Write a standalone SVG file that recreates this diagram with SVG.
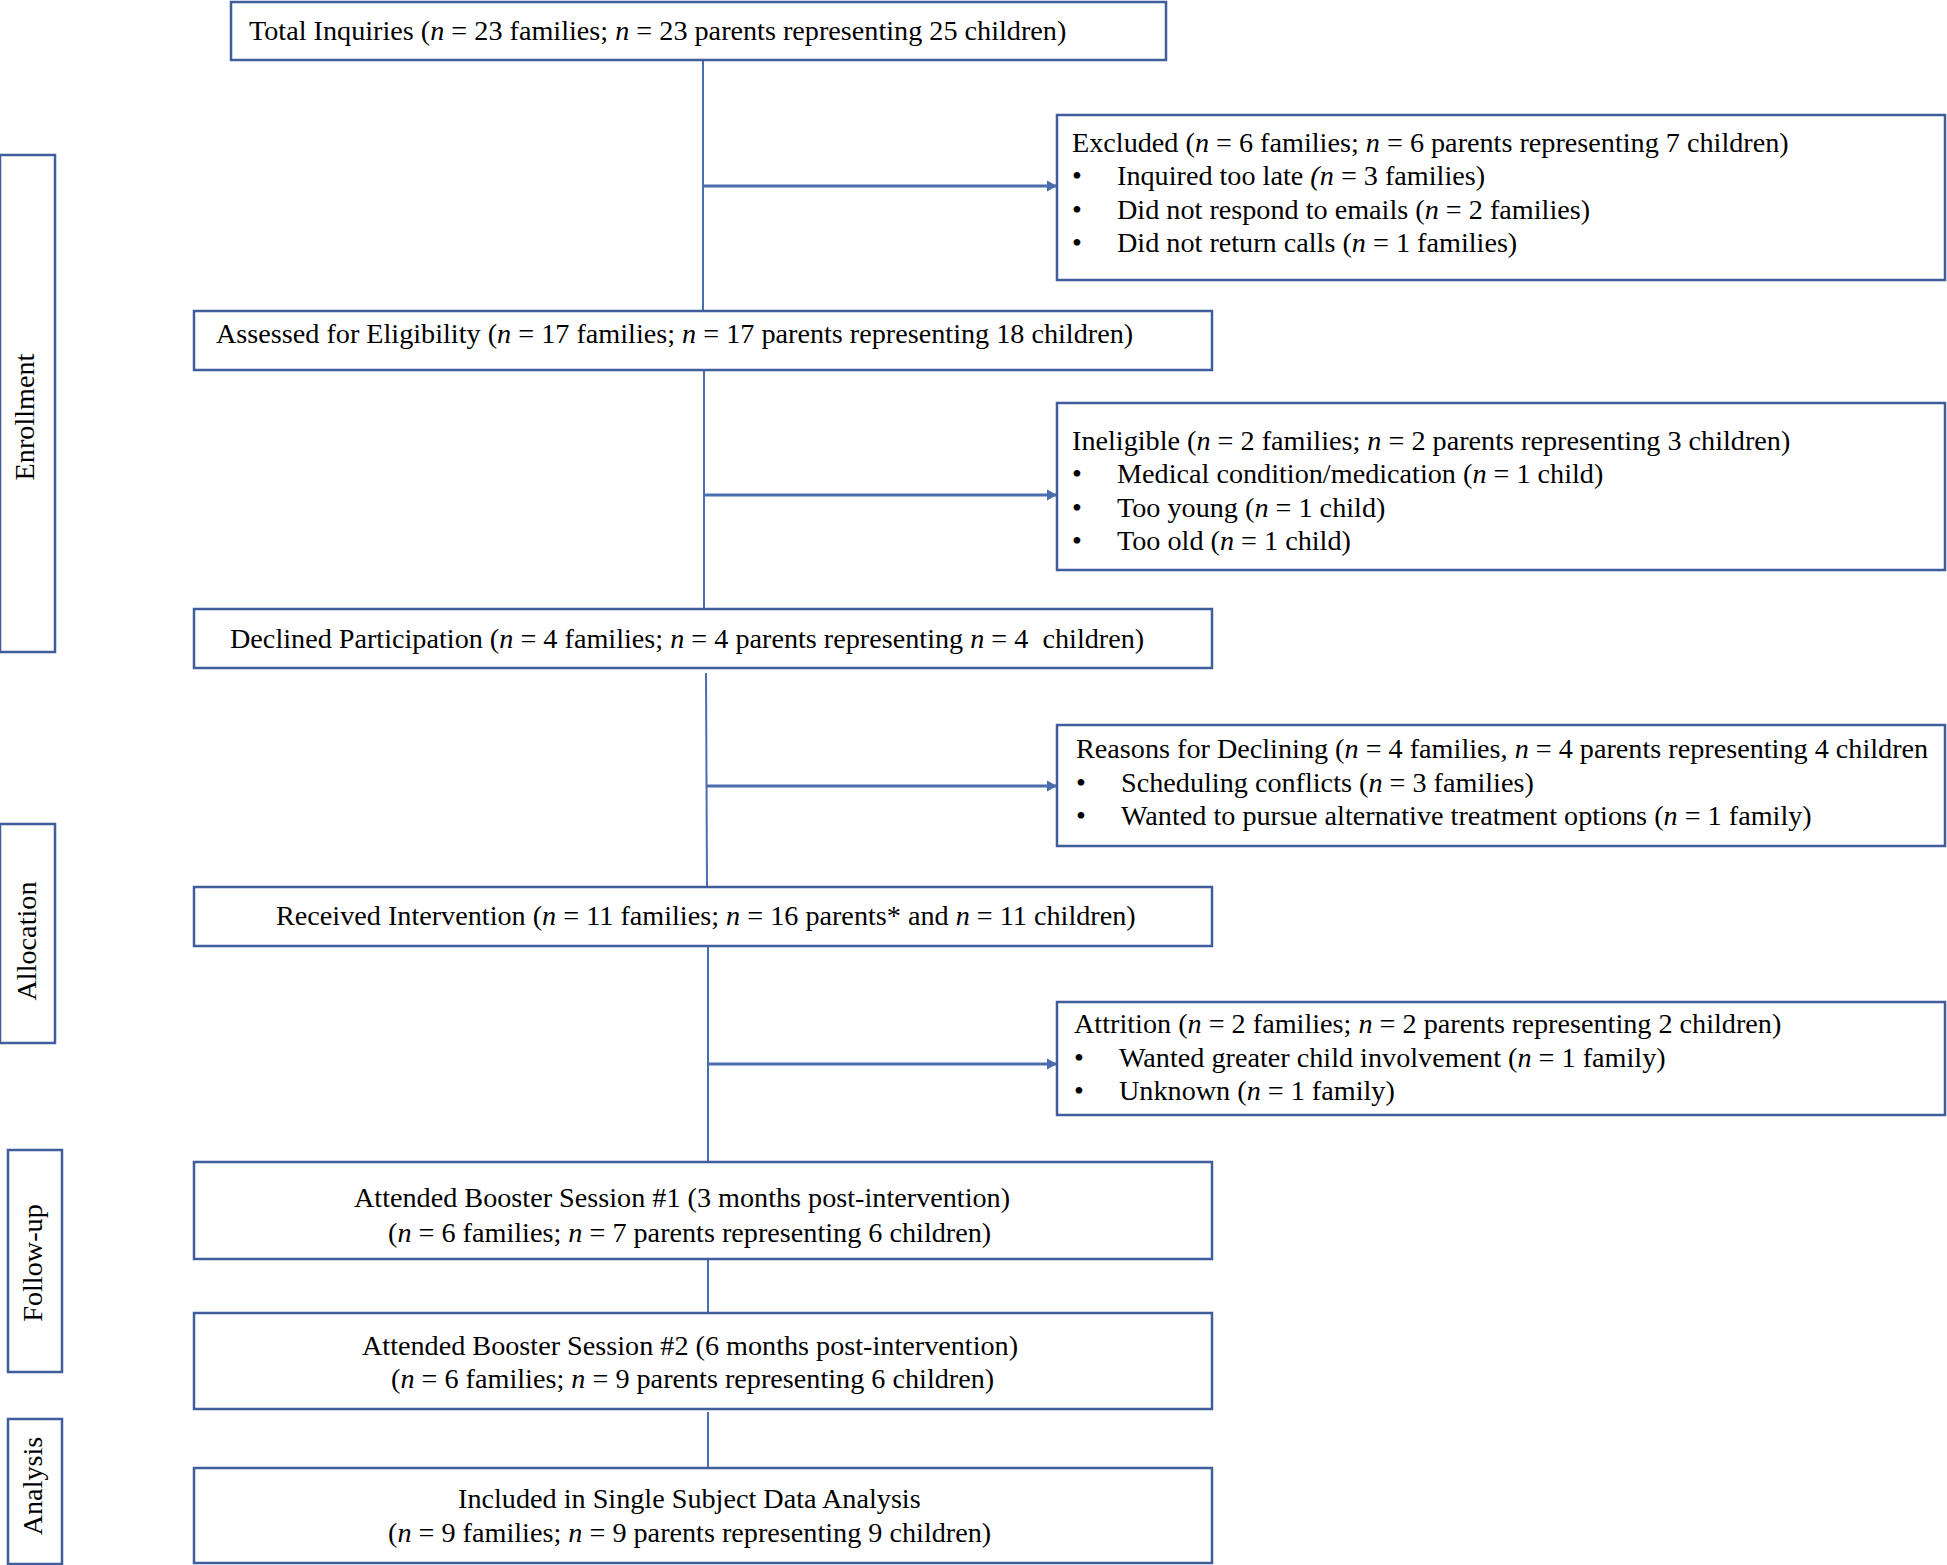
<svg xmlns="http://www.w3.org/2000/svg" width="1947" height="1565" viewBox="0 0 1947 1565">
<style>
.box{fill:#fff;stroke:#3F5E9B;stroke-width:2.5}
.t{font-family:"Liberation Serif","Times New Roman",serif;font-size:28.2px;fill:#000}
.i{font-style:italic}
.v{fill:none;stroke:#4A6DB0;stroke-width:2}
.h{fill:none;stroke:#4A6DB0;stroke-width:3}
</style>
<defs>
<marker id="arr" markerWidth="11" markerHeight="12" refX="10" refY="6" orient="auto" markerUnits="userSpaceOnUse">
<path d="M0,0.5 L10,6 L0,11.5 Z" fill="#4A6DB0"/>
</marker>
</defs>
<rect width="1947" height="1565" fill="#fff"/>
<g id="connectors">
<line class="v" x1="703" y1="60" x2="703" y2="312"/>
<line class="h" x1="703" y1="186" x2="1057" y2="186" marker-end="url(#arr)"/>
<line class="v" x1="704" y1="370" x2="704" y2="609"/>
<line class="h" x1="704" y1="495" x2="1057" y2="495" marker-end="url(#arr)"/>
<polyline class="v" points="706,673 707,887"/>
<line class="h" x1="707" y1="786" x2="1057" y2="786" marker-end="url(#arr)"/>
<line class="v" x1="708" y1="946" x2="708" y2="1162"/>
<line class="h" x1="708" y1="1064" x2="1057" y2="1064" marker-end="url(#arr)"/>
<line class="v" x1="708" y1="1259" x2="708" y2="1313"/>
<line class="v" x1="708" y1="1412" x2="708" y2="1468"/>
</g>
<g id="enrollment">
<rect class="box" x="0" y="155" width="55" height="497"/>
<text class="t" transform="translate(34,417) rotate(-90)" text-anchor="middle">Enrollment</text>
</g>
<g id="allocation">
<rect class="box" x="0" y="824" width="55" height="219"/>
<text class="t" transform="translate(36,941) rotate(-90)" text-anchor="middle">Allocation</text>
</g>
<g id="followup">
<rect class="box" x="8" y="1150" width="54" height="222"/>
<text class="t" transform="translate(42,1263) rotate(-90)" text-anchor="middle">Follow-up</text>
</g>
<g id="analysis">
<rect class="box" x="8" y="1419" width="54" height="145"/>
<text class="t" transform="translate(42,1486) rotate(-90)" text-anchor="middle">Analysis</text>
</g>
<g id="total">
<rect class="box" x="231" y="2" width="935" height="58"/>
<text class="t" x="249" y="40">Total Inquiries (<tspan class="i">n</tspan> = 23 families; <tspan class="i">n</tspan> = 23 parents representing 25 children)</text>
</g>
<g id="excluded">
<rect class="box" x="1057" y="115" width="888" height="165"/>
<text class="t" x="1072" y="152">Excluded (<tspan class="i">n</tspan> = 6 families; <tspan class="i">n</tspan> = 6 parents representing 7 children)</text>
<text class="t" x="1072" y="185">•</text><text class="t" x="1117" y="185">Inquired too late <tspan class="i">(n</tspan> = 3 families)</text>
<text class="t" x="1072" y="219">•</text><text class="t" x="1117" y="219">Did not respond to emails (<tspan class="i">n</tspan> = 2 families)</text>
<text class="t" x="1072" y="252">•</text><text class="t" x="1117" y="252">Did not return calls (<tspan class="i">n</tspan> = 1 families)</text>
</g>
<g id="assessed">
<rect class="box" x="194" y="311" width="1018" height="59"/>
<text class="t" x="216" y="343">Assessed for Eligibility (<tspan class="i">n</tspan> = 17 families; <tspan class="i">n</tspan> = 17 parents representing 18 children)</text>
</g>
<g id="ineligible">
<rect class="box" x="1057" y="403" width="888" height="167"/>
<text class="t" x="1072" y="450">Ineligible (<tspan class="i">n</tspan> = 2 families; <tspan class="i">n</tspan> = 2 parents representing 3 children)</text>
<text class="t" x="1072" y="483">•</text><text class="t" x="1117" y="483">Medical condition/medication (<tspan class="i">n</tspan> = 1 child)</text>
<text class="t" x="1072" y="517">•</text><text class="t" x="1117" y="517">Too young (<tspan class="i">n</tspan> = 1 child)</text>
<text class="t" x="1072" y="550">•</text><text class="t" x="1117" y="550">Too old (<tspan class="i">n</tspan> = 1 child)</text>
</g>
<g id="declined">
<rect class="box" x="194" y="609" width="1018" height="59"/>
<text class="t" x="230" y="648">Declined Participation (<tspan class="i">n</tspan> = 4 families; <tspan class="i">n</tspan> = 4 parents representing <tspan class="i">n</tspan> = 4&#160; children)</text>
</g>
<g id="reasons">
<rect class="box" x="1057" y="725" width="888" height="121"/>
<text class="t" x="1076" y="758">Reasons for Declining (<tspan class="i">n</tspan> = 4 families, <tspan class="i">n</tspan> = 4 parents representing 4 children</text>
<text class="t" x="1076" y="792">•</text><text class="t" x="1121" y="792">Scheduling conflicts (<tspan class="i">n</tspan> = 3 families)</text>
<text class="t" x="1076" y="825">•</text><text class="t" x="1121" y="825">Wanted to pursue alternative treatment options (<tspan class="i">n</tspan> = 1 family)</text>
</g>
<g id="received">
<rect class="box" x="194" y="887" width="1018" height="59"/>
<text class="t" x="276" y="925">Received Intervention (<tspan class="i">n</tspan> = 11 families; <tspan class="i">n</tspan> = 16 parents* and <tspan class="i">n</tspan> = 11 children)</text>
</g>
<g id="attrition">
<rect class="box" x="1057" y="1002" width="888" height="113"/>
<text class="t" x="1074" y="1033">Attrition (<tspan class="i">n</tspan> = 2 families; <tspan class="i">n</tspan> = 2 parents representing 2 children)</text>
<text class="t" x="1074" y="1067">•</text><text class="t" x="1119" y="1067">Wanted greater child involvement (<tspan class="i">n</tspan> = 1 family)</text>
<text class="t" x="1074" y="1100">•</text><text class="t" x="1119" y="1100">Unknown (<tspan class="i">n</tspan> = 1 family)</text>
</g>
<g id="booster1">
<rect class="box" x="194" y="1162" width="1018" height="97"/>
<text class="t" x="354" y="1207">Attended Booster Session #1 (3 months post-intervention)</text>
<text class="t" x="388" y="1242">(<tspan class="i">n</tspan> = 6 families; <tspan class="i">n</tspan> = 7 parents representing 6 children)</text>
</g>
<g id="booster2">
<rect class="box" x="194" y="1313" width="1018" height="96"/>
<text class="t" x="362" y="1355">Attended Booster Session #2 (6 months post-intervention)</text>
<text class="t" x="391" y="1388">(<tspan class="i">n</tspan> = 6 families; <tspan class="i">n</tspan> = 9 parents representing 6 children)</text>
</g>
<g id="included">
<rect class="box" x="194" y="1468" width="1018" height="95"/>
<text class="t" x="458" y="1508">Included in Single Subject Data Analysis</text>
<text class="t" x="388" y="1542">(<tspan class="i">n</tspan> = 9 families; <tspan class="i">n</tspan> = 9 parents representing 9 children)</text>
</g>
</svg>
